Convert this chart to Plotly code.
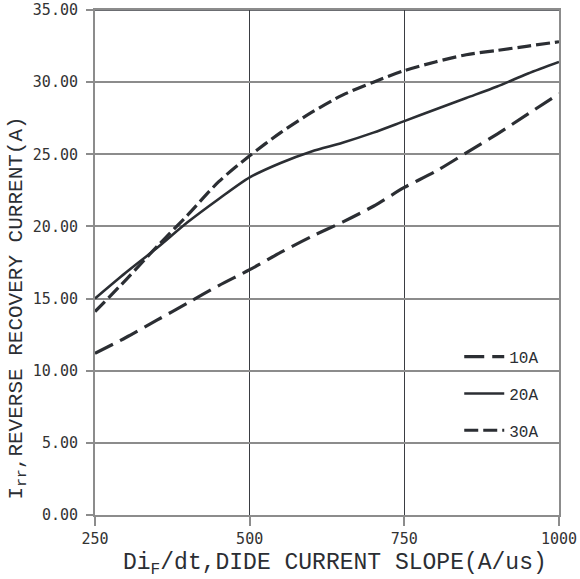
import plotly.graph_objects as go

# di/dt sweep (A/us)
slope = [250, 300, 350, 400, 450, 500, 550, 600, 650, 700, 750, 800, 850, 900, 950, 1000]

# Reverse recovery current Irr (A) for each forward current
irr_10a = [11.2, 12.3, 13.5, 14.7, 15.9, 17.0, 18.2, 19.3, 20.3, 21.4, 22.7, 23.8, 25.1, 26.4, 27.8, 29.2]
irr_20a = [15.0, 16.8, 18.5, 20.3, 21.9, 23.4, 24.4, 25.2, 25.8, 26.5, 27.3, 28.1, 28.9, 29.7, 30.6, 31.4]
irr_30a = [14.1, 16.3, 18.6, 20.8, 23.1, 24.9, 26.5, 27.9, 29.1, 30.0, 30.8, 31.4, 31.9, 32.2, 32.5, 32.8]

x_ticks = [250, 500, 750, 1000]
y_ticks = [0, 5, 10, 15, 20, 25, 30, 35]

ink = "#2b2e33"
grid_light = "#8c8c8c"
grid_dark = "#3a3d42"
mono = "Liberation Mono"
tick_font = dict(family="DejaVu Sans Mono", size=15, color="#333")

series = [
    ("10A", irr_10a, "20px,8px", 3.2),
    ("20A", irr_20a, "solid", 2.6),
    ("30A", irr_30a, "14px,5px", 3.2),
]

fig = go.Figure()
for i, (name, ys, dash, w) in enumerate(series):
    fig.add_trace(go.Scatter(
        x=slope, y=ys, name=name, mode="lines",
        line=dict(color=ink, width=w, dash=dash, shape="spline", smoothing=0.8),
        legendgroup=f"g{i}",
    ))

fig.update_layout(
    width=580, height=579,
    margin=dict(l=95, r=21, t=10, b=64, autoexpand=False),
    paper_bgcolor="white", plot_bgcolor="white",
    showlegend=True,
    legend=dict(
        x=0.785, y=0.347, xanchor="left", yanchor="top",
        bgcolor="rgba(0,0,0,0)", borderwidth=0,
        font=dict(family=mono, size=16, color=ink),
        tracegroupgap=13, itemwidth=40,
    ),
    xaxis=dict(
        range=[250, 1000], tickvals=x_ticks, ticktext=[str(v) for v in x_ticks],
        showgrid=True, gridcolor=grid_dark, gridwidth=1,
        showline=True, linecolor=grid_light, linewidth=2, mirror=True,
        ticks="outside", ticklen=9, tickcolor=grid_light, tickwidth=1.5,
        tickfont=tick_font, ticklabelstandoff=0, zeroline=False, automargin=False,
    ),
    yaxis=dict(
        range=[0, 35], tickvals=y_ticks, tickformat=".2f",
        showgrid=True, gridcolor=grid_light, gridwidth=1.5,
        showline=True, linecolor=grid_light, linewidth=2, mirror=True,
        ticks="outside", ticklen=7, tickcolor=grid_light, tickwidth=1.5,
        tickfont=tick_font, ticklabelstandoff=5, zeroline=False, automargin=False,
    ),
)

# dark frame edge along the top of the plotting area
fig.add_shape(type="line", xref="paper", yref="y", x0=0, x1=1, y0=35, y1=35,
              line=dict(color=grid_dark, width=1.5))

# axis titles
fig.add_annotation(
    text="Di<sub>F</sub>/dt,DIDE CURRENT SLOPE(A/us)",
    xref="paper", yref="paper", x=0.518, y=-0.098, xanchor="center", yanchor="middle",
    showarrow=False, font=dict(family=mono, size=23, color=ink),
)
fig.add_annotation(
    text="I<sub>rr</sub>,REVERSE RECOVERY CURRENT(A)",
    xref="paper", yref="paper", x=-0.167, y=0.41, xanchor="center", yanchor="middle",
    textangle=-90, showarrow=False, font=dict(family=mono, size=21, color=ink),
)

fig.write_html("out.html")
